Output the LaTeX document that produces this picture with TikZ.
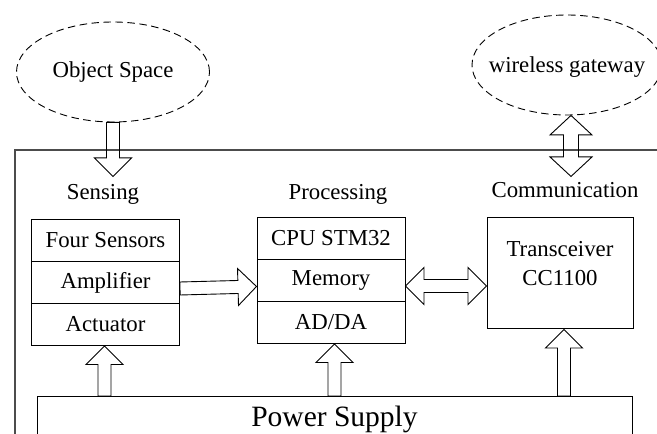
\documentclass[tikz,border=0pt]{standalone}
\usepackage{fontspec}
\setmainfont{Liberation Serif}
\usepackage{tikz}
\usetikzlibrary{shapes.geometric,calc}

\newcommand{\shaftw}{6.5pt}
\newcommand{\headw}{18.5pt}
\newcommand{\headl}{18.5pt}

\tikzset{
  cell/.style={rectangle, draw, line width=1pt, minimum width=148pt, minimum height=42pt, inner sep=0pt},
  zone/.style={ellipse, draw, dash pattern=on 7.5pt off 4.5pt, line width=0.9pt, minimum height=100pt},
  % hollow block arrow, tip at the target
  blockarrow/.style={line width=0.9pt, to path={
    let \p1=(\tikztostart), \p2=(\tikztotarget), \n1={atan2(\y2-\y1,\x2-\x1)} in
    ($(\p1)+(\n1+90:\shaftw)$)
    -- ($(\p2)+(\n1+180:\headl)+(\n1+90:\shaftw)$)
    -- ($(\p2)+(\n1+180:\headl)+(\n1+90:\headw)$)
    -- (\p2)
    -- ($(\p2)+(\n1+180:\headl)+(\n1-90:\headw)$)
    -- ($(\p2)+(\n1+180:\headl)+(\n1-90:\shaftw)$)
    -- ($(\p1)+(\n1-90:\shaftw)$) -- cycle}},
  % hollow block arrow, tips at both ends
  blockboth/.style={line width=0.9pt, to path={
    let \p1=(\tikztostart), \p2=(\tikztotarget), \n1={atan2(\y2-\y1,\x2-\x1)} in
    (\p1)
    -- ($(\p1)+(\n1:\headl)+(\n1+90:\headw)$)
    -- ($(\p1)+(\n1:\headl)+(\n1+90:\shaftw)$)
    -- ($(\p2)+(\n1+180:\headl)+(\n1+90:\shaftw)$)
    -- ($(\p2)+(\n1+180:\headl)+(\n1+90:\headw)$)
    -- (\p2)
    -- ($(\p2)+(\n1+180:\headl)+(\n1-90:\headw)$)
    -- ($(\p2)+(\n1+180:\headl)+(\n1-90:\shaftw)$)
    -- ($(\p1)+(\n1:\headl)+(\n1-90:\shaftw)$)
    -- ($(\p1)+(\n1:\headl)+(\n1-90:\headw)$)
    -- cycle}}
}

\begin{document}
\begin{tikzpicture}[x=1pt, y=1pt, node distance=42pt, font=\fontsize{22.8}{27}\selectfont]
  \useasboundingbox (0,0) rectangle (657,434);
  \clip (0,0) rectangle (657,434);

  % the board, runs off the page
  \draw[black!70, line width=1.6pt] (15,-20) rectangle (680,284);

  % text as label, so the ellipse keeps its size
  \node (os) [zone, minimum width=193pt, label=center:Object Space] at (113,362) {};
  \node (wg) [zone, minimum width=190pt, label={[yshift=-2pt]center:wireless gateway}] at (567,369) {};

  \node (sensing) [anchor=base] at (103,234) {Sensing};
  \node (processing) [anchor=base] at (338,234) {Processing};
  \node (communication) [anchor=base] at (565,236) {Communication};

  \node (sen) [cell] at (105.5,193.5) {Four Sensors};
  \node (amp) [cell, below of=sen] {Amplifier};
  \node (act) [cell, below of=amp] {Actuator};

  \node (cpu) [cell] at (331,195.5) {CPU STM32};
  \node (mem) [cell, below of=cpu] {Memory};
  \node (adda) [cell, below of=mem] {AD/DA};

  \node (trx) [rectangle, draw, line width=1pt, minimum width=146pt, minimum height=111pt,
    label={[align=center, yshift=10pt, font=\fontsize{22.8}{29}\selectfont]center:Transceiver\\CC1100}] at (560,160.5) {};

  \node (pwr) [rectangle, draw, line width=1pt, minimum width=595pt, minimum height=46pt,
    anchor=north, font=\fontsize{29.5}{35}\selectfont] at (334.5,38) {Power Supply};

  \coordinate (ostip) at ([yshift=-54pt]os.south);
  \coordinate (wgtop) at ([xshift=4pt]wg.south);
  \coordinate (wgtip) at ([yshift=-61pt]wgtop);

  \draw[blockarrow] (os.south) to (ostip);
  {\renewcommand{\shaftw}{7.5pt}\renewcommand{\headw}{21pt}\renewcommand{\headl}{19.5pt}
  \draw[blockboth] (wgtop) to (wgtip);}
  \draw[blockarrow] ([yshift=-6pt]amp.east) to ([yshift=-6pt]mem.west);
  \draw[blockboth] ([yshift=-5.5pt]mem.east) to ([yshift=-5.5pt]mem.east -| trx.west);
  \draw[blockarrow] ([xshift=-1pt]act.south |- pwr.north) to ([xshift=-1pt]act.south);
  \draw[blockarrow] ([xshift=3.5pt]adda.south |- pwr.north) to ([xshift=3.5pt]adda.south);
  \draw[blockarrow] ([xshift=4pt]trx.south |- pwr.north) to ([xshift=4pt]trx.south);
\end{tikzpicture}
\end{document}
